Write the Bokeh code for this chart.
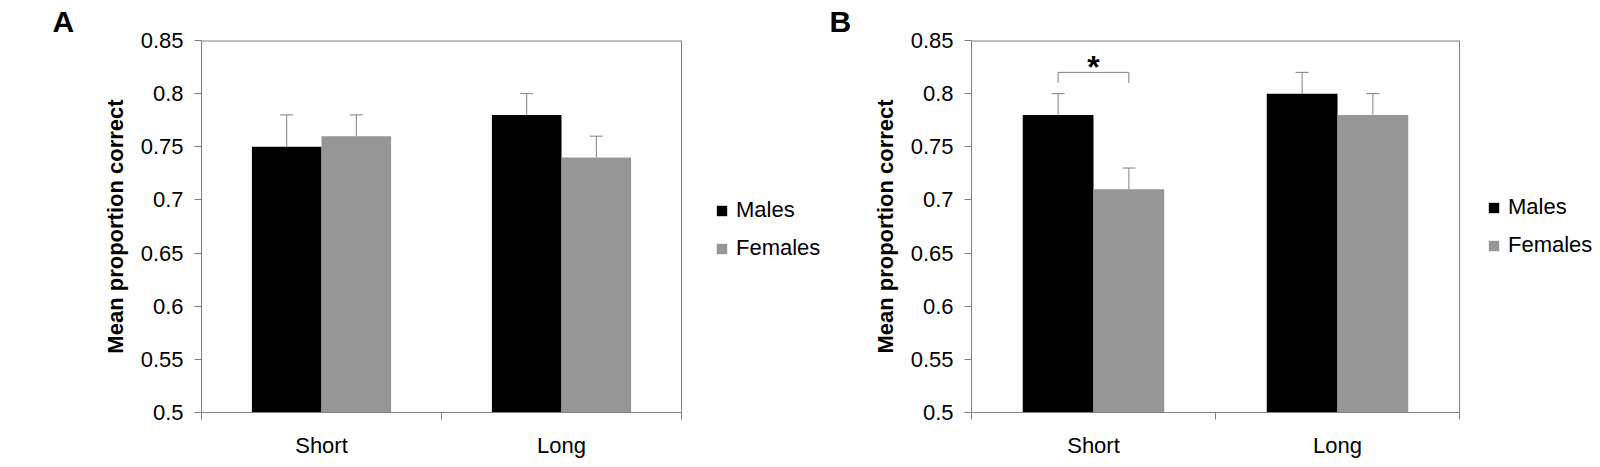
from bokeh.plotting import figure
from bokeh.models import (ColumnDataSource, FixedTicker, Whisker, TeeHead, Legend,
                          LegendItem, Label, Range1d, Title)
from bokeh.layouts import row
from bokeh.embed import file_html
from bokeh.resources import INLINE

# ---------------- data ----------------
categories = ["Short", "Long"]
series_names = ["Males", "Females"]

a_males = [0.75, 0.78]
a_males_err = [0.03, 0.02]
a_females = [0.76, 0.74]
a_females_err = [0.02, 0.02]

b_males = [0.78, 0.80]
b_males_err = [0.02, 0.02]
b_females = [0.71, 0.78]
b_females_err = [0.02, 0.02]

y_ticks = [0.5, 0.55, 0.6, 0.65, 0.7, 0.75, 0.8, 0.85]
y_tick_labels = ["0.5", "0.55", "0.6", "0.65", "0.7", "0.75", "0.8", "0.85"]

b_sig_category = "Short"
b_sig_level = 0.82
b_sig_drop = 0.01
b_sig_text = "*"

panel_labels = ["A", "B"]
y_title = "Mean proportion correct"

# ---------------- styling ----------------
FONT = "Liberation Sans"
MALE_COLOR = "#000000"
FEMALE_COLOR = "#969696"
AXIS_COLOR = "#808080"
ERR_COLOR = "#808080"
BAR_W = 0.29


def make_panel(letter, males, males_err, females, females_err,
               fig_width, border_left, plot_px, legend_loc, letter_offset, sig=None):
    n = len(categories)
    centers = [i + 0.5 for i in range(n)]
    frame_w = fig_width - border_left
    # the frame also hosts the legend; the chart box itself spans [0, n]
    x_end = n * frame_w / plot_px
    p = figure(frame_width=frame_w, frame_height=372,
               min_border_left=border_left, min_border_right=0,
               min_border_top=40, min_border_bottom=55,
               x_range=Range1d(0, x_end),
               y_range=Range1d(y_ticks[0], y_ticks[-1]),
               output_backend="svg", toolbar_location=None)
    p.xgrid.visible = False
    p.ygrid.visible = False
    p.outline_line_color = None
    p.background_fill_color = "white"
    p.border_fill_color = "white"

    # chart box (top and right sides)
    p.line(x=[0, n], y=[y_ticks[-1], y_ticks[-1]], line_color=AXIS_COLOR, line_width=2)
    p.line(x=[n, n], y=[y_ticks[0], y_ticks[-1]], line_color=AXIS_COLOR, line_width=1)

    renderers = []
    for vals, errs, color, sign in [(males, males_err, MALE_COLOR, -1),
                                    (females, females_err, FEMALE_COLOR, 1)]:
        src = ColumnDataSource(dict(
            x=[c + sign * BAR_W / 2 for c in centers],
            top=vals,
            upper=[v + e for v, e in zip(vals, errs)],
        ))
        r = p.vbar(x="x", top="top", bottom=y_ticks[0], width=BAR_W, source=src,
                   fill_color=color, line_color=None)
        renderers.append(r)
        w = Whisker(source=src, base="x", lower="top", upper="upper",
                    line_color=ERR_COLOR, line_width=1,
                    upper_head=TeeHead(size=13, line_color=ERR_COLOR, line_width=1),
                    lower_head=None)
        p.add_layout(w)

    if sig is not None:
        cat, level, drop, txt = sig
        c = centers[categories.index(cat)]
        xl, xr = c - BAR_W / 2, c + BAR_W / 2
        p.line(x=[xl, xl, xr, xr], y=[level - drop, level, level, level - drop],
               line_color=ERR_COLOR, line_width=1)
        p.add_layout(Label(x=c, y=level, text=txt, text_font=FONT,
                           text_font_size="32px", text_font_style="bold",
                           text_align="center", text_baseline="alphabetic",
                           y_offset=5, text_color="black"))

    # x axis: labels at category centres, ticks at category boundaries
    xa = p.xaxis[0]
    xa.bounds = (0, n)
    xa.ticker = FixedTicker(ticks=centers, minor_ticks=list(range(n + 1)))
    xa.major_label_overrides = {c: name for c, name in zip(centers, categories)}
    xa.major_tick_line_color = None
    xa.major_tick_out = 0
    xa.major_tick_in = 0
    xa.minor_tick_out = 7
    xa.minor_tick_in = 0
    xa.minor_tick_line_color = AXIS_COLOR
    xa.axis_line_color = AXIS_COLOR
    xa.major_label_text_font = FONT
    xa.major_label_text_font_size = "22px"
    xa.major_label_text_color = "black"
    xa.major_label_standoff = 13

    ya = p.yaxis[0]
    ya.ticker = FixedTicker(ticks=y_ticks, minor_ticks=[])
    ya.major_label_overrides = {t: s for t, s in zip(y_ticks, y_tick_labels)}
    ya.major_tick_out = 7
    ya.major_tick_in = 0
    ya.major_tick_line_color = AXIS_COLOR
    ya.axis_line_color = AXIS_COLOR
    ya.major_label_text_font = FONT
    ya.major_label_text_font_size = "22px"
    ya.major_label_text_color = "black"
    ya.major_label_standoff = 11
    ya.axis_label = y_title
    ya.axis_label_text_font = FONT
    ya.axis_label_text_font_size = "22px"
    ya.axis_label_text_font_style = "bold"
    ya.axis_label_text_color = "black"
    ya.axis_label_standoff = 10

    legend = Legend(items=[LegendItem(label=series_names[0], renderers=[renderers[0]]),
                           LegendItem(label=series_names[1], renderers=[renderers[1]])],
                    location=legend_loc, orientation="vertical",
                    glyph_width=13, glyph_height=13, label_standoff=8,
                    label_text_font=FONT, label_text_font_size="22px",
                    label_text_color="black", label_height=24, spacing=12,
                    padding=0, margin=0, border_line_color=None,
                    background_fill_alpha=0)
    p.add_layout(legend)

    p.add_layout(Title(text=letter, text_font=FONT, text_font_size="30px",
                       text_font_style="bold", text_color="black",
                       align="left", offset=letter_offset, standoff=5), "above")
    return p


pA = make_panel(panel_labels[0], a_males, a_males_err, a_females, a_females_err,
                fig_width=826, border_left=201, plot_px=480,
                legend_loc=(514, 151), letter_offset=-149)
pB = make_panel(panel_labels[1], b_males, b_males_err, b_females, b_females_err,
                fig_width=772, border_left=145, plot_px=488,
                legend_loc=(516, 154), letter_offset=-142,
                sig=(b_sig_category, b_sig_level, b_sig_drop, b_sig_text))

layout = row(pA, pB)
open("out.html", "w").write(file_html(layout, INLINE))
